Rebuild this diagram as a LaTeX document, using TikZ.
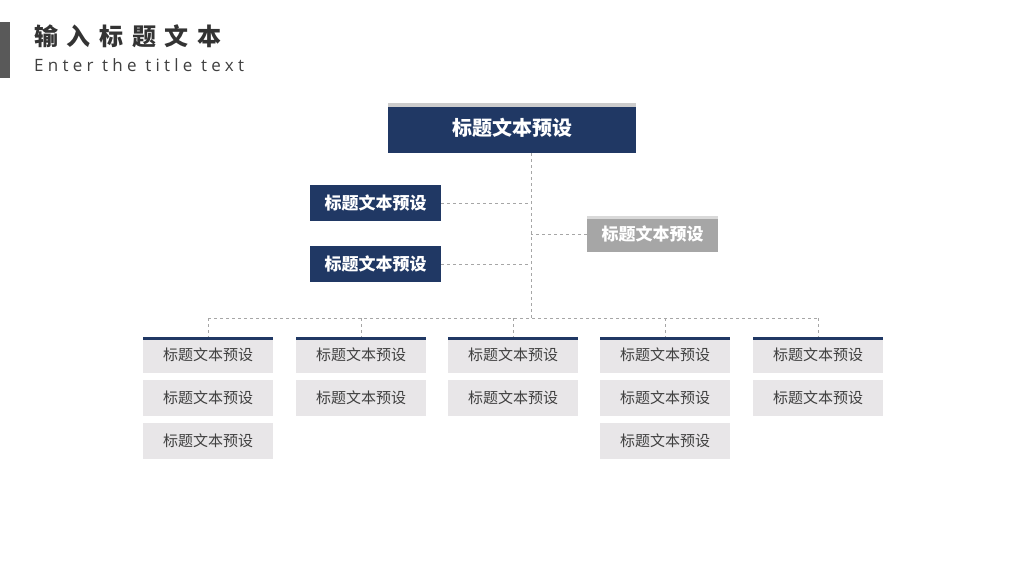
\documentclass[tikz,border=0pt]{standalone}
\usepackage{fontspec}
\setmainfont{Noto Sans CJK SC}
\newfontfamily\cjkspaced[LetterSpace=36]{Noto Sans CJK SC}
\newfontfamily\enspaced[LetterSpace=25]{Open Sans}
\usepackage{xcolor}
\usetikzlibrary{positioning}
\definecolor{navy}{HTML}{203864}
\definecolor{boxgray}{HTML}{E8E6E8}
\definecolor{midgray}{HTML}{A6A6A6}
\definecolor{textgray}{HTML}{404040}
\tikzset{
  navybox/.style={fill=navy, text=white, inner sep=0pt, font=\bfseries\fontsize{17}{17}\selectfont},
  graybox/.style={fill=midgray, text=white, inner sep=0pt, minimum width=131pt, minimum height=36pt, font=\bfseries\fontsize{17}{17}\selectfont},
  itembox/.style={fill=boxgray, text=textgray, inner sep=0pt, minimum width=130pt, minimum height=36pt, font=\fontsize{15}{15}\selectfont},
  link/.style={draw=gray!70, dashed, line width=0.6pt}
}
\begin{document}
\begin{tikzpicture}[x=1pt, y=-1pt]
\useasboundingbox (0,0) rectangle (1024,576);
\fill[white] (0,0) rectangle (1024,576);

% heading
\fill[black!65] (0,22) rectangle (10,78);
\node[anchor=west, inner sep=0pt, text=black!80, font=\cjkspaced\bfseries\fontsize{24}{24}\selectfont] (head) at (34,36) {输入标题文本};
\node[anchor=west, inner sep=0pt, text=black!75, font=\enspaced\fontsize{17}{17}\selectfont] (subhead) at (34,65) {Enter the title text};

% upper part
\node[navybox, minimum width=248pt, minimum height=50pt, font=\bfseries\fontsize{20}{20}\selectfont] (top) at (512,128) {标题文本预设};
\fill[gray!40] (top.north west) rectangle ([yshift=-4pt]top.north east);
\node[navybox, minimum width=131pt, minimum height=36pt] (left1) at (375.5,203) {标题文本预设};
\node[navybox, minimum width=131pt, minimum height=36pt] (left2) at (375.5,264) {标题文本预设};
\node[graybox] (right1) at (652.5,234) {标题文本预设};
\fill[gray!30] (right1.north west) rectangle ([yshift=-3pt]right1.north east);

\coordinate (trunk) at (531,153);
\coordinate (bus) at (531,318);
\draw[link] (trunk) -- (bus);
\draw[link] (left1.east) -- (left1.east -| trunk);
\draw[link] (left2.east) -- (left2.east -| trunk);
\draw[link] (right1.west) -- (right1.west -| trunk);

% lower columns
\node[itembox] (c1a) at (208,355) {标题文本预设};
\node[itembox] (c1b) at (208,398) {标题文本预设};
\node[itembox] (c1c) at (208,441) {标题文本预设};
\node[itembox] (c2a) at (361,355) {标题文本预设};
\node[itembox] (c2b) at (361,398) {标题文本预设};
\node[itembox] (c3a) at (513,355) {标题文本预设};
\node[itembox] (c3b) at (513,398) {标题文本预设};
\node[itembox] (c4a) at (665,355) {标题文本预设};
\node[itembox] (c4b) at (665,398) {标题文本预设};
\node[itembox] (c4c) at (665,441) {标题文本预设};
\node[itembox] (c5a) at (818,355) {标题文本预设};
\node[itembox] (c5b) at (818,398) {标题文本预设};

\draw[link] (c1a.north |- bus) -- (c5a.north |- bus);
\foreach \c in {c1a,c2a,c3a,c4a,c5a} {
  \fill[navy] (\c.north west) rectangle ([yshift=-3pt]\c.north east);
  \draw[link] (\c.north |- bus) -- (\c.north);
}
\end{tikzpicture}
\end{document}
